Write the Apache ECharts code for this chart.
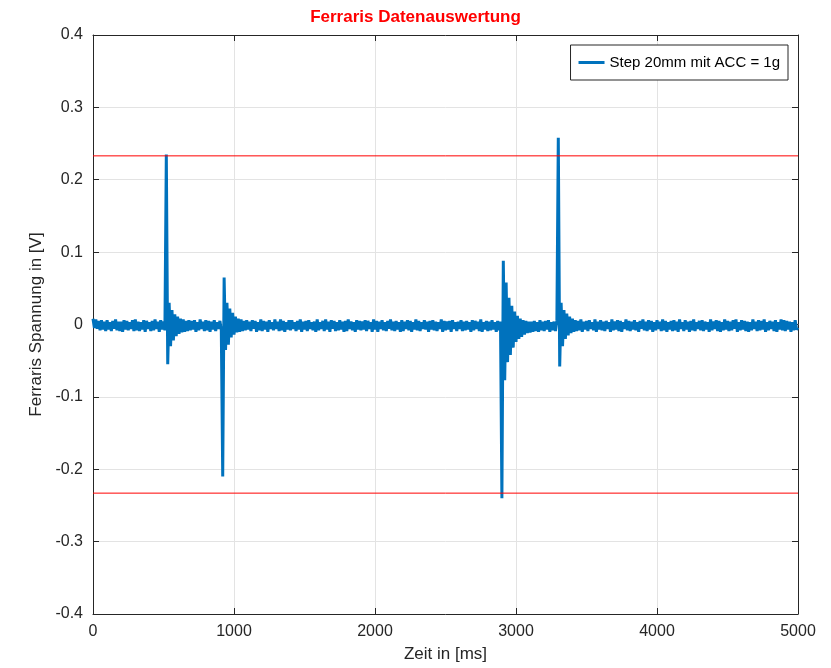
<!DOCTYPE html>
<html><head><meta charset="utf-8">
<script src="https://cdn.jsdelivr.net/npm/echarts@6/dist/echarts.min.js"></script>
<style>html,body{margin:0;padding:0;background:#fff}#c{width:831px;height:668px}</style>
</head><body><div id="c"></div>
<script>
var titleText = "Ferraris Datenauswertung";
var seriesName = "Step 20mm mit ACC = 1g";
var xAxisName = "Zeit in [ms]";
var yAxisName = "Ferraris Spannung in [V]";
var xTicks = [0, 1000, 2000, 3000, 4000, 5000];
var yTicks = [-0.4, -0.3, -0.2, -0.1, 0, 0.1, 0.2, 0.3, 0.4];
var thresholds = [0.233, -0.233];
var sampleStartMs = 0;
var sampleStepMs = 10;
var voltage = [
 0.008, -0.005, 0.007, -0.006, 0.005, -0.008, 0.006, -0.007, 0.004, -0.009,
 0.006, -0.007, 0.003, -0.009, 0.005, -0.006, 0.007, -0.008, 0.004, -0.009,
 0.004, -0.010, 0.006, -0.007, 0.005, -0.008, 0.003, -0.006, 0.006, -0.009,
 0.007, -0.008, 0.004, -0.009, 0.003, -0.007, 0.006, -0.010, 0.005, -0.006,
 0.003, -0.009, 0.005, -0.008, 0.007, -0.006, 0.004, -0.010, 0.006, -0.007,
 0.004, -0.008, 0.235, -0.055, 0.030, -0.030, 0.020, -0.022, 0.014, -0.016,
 0.011, -0.013, 0.008, -0.011, 0.007, -0.010, 0.005, -0.009, 0.006, -0.008,
 0.005, -0.007, 0.006, -0.010, 0.003, -0.008, 0.007, -0.006, 0.004, -0.009,
 0.006, -0.008, 0.005, -0.010, 0.004, -0.007, 0.006, -0.009, 0.003, -0.006,
 0.005, -0.008, -0.210, 0.065, -0.035, 0.030, -0.028, 0.022, -0.018, 0.016,
 -0.014, 0.011, -0.011, 0.008, -0.010, 0.007, -0.009, 0.005, -0.008, 0.006,
 -0.007, 0.004, -0.009, 0.006, -0.006, 0.005, -0.010, 0.003, -0.008, 0.007,
 -0.009, 0.005, -0.007, 0.004, -0.010, 0.006, -0.006, 0.003, -0.008, 0.007,
 -0.006, 0.004, -0.009, 0.007, -0.008, 0.005, -0.010, 0.003, -0.007, 0.006,
 -0.008, 0.006, -0.006, 0.003, -0.009, 0.005, -0.007, 0.007, -0.010, 0.004,
 -0.007, 0.005, -0.009, 0.006, -0.006, 0.003, -0.008, 0.004, -0.010, 0.007,
 -0.008, 0.003, -0.006, 0.005, -0.009, 0.007, -0.007, 0.004, -0.010, 0.006,
 -0.006, 0.005, -0.009, 0.003, -0.008, 0.006, -0.007, 0.004, -0.010, 0.005,
 -0.009, 0.007, -0.006, 0.004, -0.008, 0.003, -0.010, 0.006, -0.007, 0.005,
 -0.008, 0.004, -0.007, 0.006, -0.009, 0.005, -0.006, 0.003, -0.010, 0.007,
 -0.007, 0.005, -0.010, 0.004, -0.006, 0.006, -0.008, 0.003, -0.009, 0.005,
 -0.006, 0.007, -0.008, 0.004, -0.009, 0.005, -0.007, 0.003, -0.010, 0.006,
 -0.009, 0.004, -0.006, 0.006, -0.008, 0.005, -0.010, 0.003, -0.007, 0.007,
 -0.008, 0.005, -0.009, 0.003, -0.006, 0.006, -0.007, 0.004, -0.010, 0.005,
 -0.007, 0.006, -0.008, 0.004, -0.009, 0.003, -0.006, 0.007, -0.010, 0.005,
 -0.008, 0.004, -0.007, 0.005, -0.010, 0.006, -0.006, 0.003, -0.009, 0.004,
 -0.006, 0.006, -0.009, 0.004, -0.008, 0.005, -0.007, 0.003, -0.010, 0.006,
 -0.008, 0.005, -0.006, 0.004, -0.009, 0.007, -0.010, 0.003, -0.007, 0.005,
 -0.009, 0.004, -0.008, 0.006, -0.007, 0.003, -0.010, 0.005, -0.008, 0.004,
 -0.240, 0.088, -0.077, 0.058, -0.052, 0.037, -0.042, 0.026, -0.032, 0.018,
 -0.024, 0.012, -0.020, 0.008, -0.017, 0.006, -0.014, 0.005, -0.012, 0.004,
 -0.011, 0.004, -0.010, 0.005, -0.009, 0.003, -0.010, 0.006, -0.008, 0.004,
 -0.009, 0.005, -0.007, 0.006, -0.010, 0.003, -0.008, 0.004, -0.009, 0.005,
 0.258, -0.058, 0.030, -0.030, 0.020, -0.020, 0.015, -0.015, 0.011, -0.012,
 0.008, -0.010, 0.006, -0.009, 0.005, -0.008, 0.007, -0.010, 0.004, -0.007,
 0.005, -0.009, 0.006, -0.006, 0.003, -0.008, 0.007, -0.010, 0.004, -0.007,
 0.006, -0.008, 0.004, -0.009, 0.005, -0.006, 0.003, -0.010, 0.007, -0.008,
 0.004, -0.007, 0.006, -0.009, 0.005, -0.010, 0.003, -0.006, 0.007, -0.008,
 0.005, -0.009, 0.004, -0.007, 0.006, -0.008, 0.003, -0.010, 0.005, -0.006,
 0.007, -0.008, 0.004, -0.009, 0.006, -0.007, 0.005, -0.010, 0.003, -0.008,
 0.006, -0.006, 0.004, -0.009, 0.007, -0.008, 0.005, -0.010, 0.003, -0.007,
 0.005, -0.009, 0.006, -0.008, 0.004, -0.010, 0.007, -0.006, 0.003, -0.009,
 0.006, -0.007, 0.004, -0.010, 0.005, -0.008, 0.007, -0.009, 0.003, -0.006,
 0.005, -0.008, 0.006, -0.009, 0.004, -0.007, 0.003, -0.010, 0.007, -0.008,
 0.004, -0.006, 0.006, -0.009, 0.005, -0.010, 0.003, -0.008, 0.007, -0.007,
 0.005, -0.009, 0.004, -0.008, 0.006, -0.006, 0.007, -0.010, 0.003, -0.008,
 0.006, -0.007, 0.005, -0.009, 0.004, -0.010, 0.003, -0.008, 0.007, -0.006,
 0.004, -0.009, 0.006, -0.008, 0.005, -0.007, 0.007, -0.010, 0.003, -0.008,
 0.005, -0.006, 0.004, -0.009, 0.006, -0.010, 0.003, -0.007, 0.007, -0.008,
 0.006, -0.009, 0.005, -0.007, 0.004, -0.010, 0.003, -0.008, 0.006, -0.007,
 -0.004
];

var points = voltage.map(function (v, i) { return [sampleStartMs + i * sampleStepMs, v]; });
var xMin = xTicks[0], xMax = xTicks[xTicks.length - 1];

var FONT = "Liberation Sans";
var axisCol = "#262626";
var gridCol = "#e3e3e3";

function mkX(show, pos) {
  return {
    type: "value", min: xMin, max: xMax, interval: 1000,
    position: pos,
    name: show ? xAxisName : "", nameLocation: "middle", nameGap: 32,
    nameTextStyle: { fontFamily: FONT, fontSize: 17, color: axisCol },
    axisLine: { show: true, onZero: false, lineStyle: { color: axisCol, width: 1 } },
    axisTick: { show: true, inside: true, length: 6, lineStyle: { color: axisCol } },
    axisLabel: { show: show, fontFamily: FONT, fontSize: 16, color: axisCol, margin: 10,
      formatter: function (v) { return String(Math.round(v)); } },
    splitLine: { show: show, lineStyle: { color: gridCol, width: 1 } }
  };
}
function mkY(show, pos) {
  return {
    type: "value", min: yTicks[0], max: yTicks[yTicks.length - 1], interval: 0.1,
    position: pos,
    name: show ? yAxisName : "", nameLocation: "middle", nameGap: 40, nameRotate: 90,
    nameTextStyle: { fontFamily: FONT, fontSize: 17, color: axisCol },
    axisLine: { show: true, onZero: false, lineStyle: { color: axisCol, width: 1 } },
    axisTick: { show: true, inside: true, length: 6, lineStyle: { color: axisCol } },
    axisLabel: { show: show, fontFamily: FONT, fontSize: 16, color: axisCol, margin: 10,
      formatter: function (v) { return Math.abs(v) < 1e-9 ? "0" : String(Math.round(v * 10) / 10); } },
    splitLine: { show: show, lineStyle: { color: gridCol, width: 1 } }
  };
}

var series = [{
  name: seriesName, type: "line", data: points, xAxisIndex: 0, yAxisIndex: 0,
  showSymbol: false, symbol: "none", z: 2,
  lineStyle: { color: "#0072BD", width: 3 }, itemStyle: { color: "#0072BD" }
}];
thresholds.forEach(function (t, k) {
  series.push({
    name: "thr" + k, type: "line", data: [[xMin, t], [xMax, t]],
    xAxisIndex: 0, yAxisIndex: 0, showSymbol: false, symbol: "none", silent: true, z: 3,
    lineStyle: { color: "#ff0000", width: 1 }, itemStyle: { color: "#ff0000" }
  });
});

var chart = echarts.init(document.getElementById("c"), null, { renderer: "canvas" });
chart.setOption({
  animation: false,
  backgroundColor: "#fff",
  title: { text: titleText, left: "center", top: 4,
    textStyle: { fontFamily: FONT, fontSize: 17, fontWeight: "bold", color: "#ff0000" } },
  legend: {
    right: 43, top: 45, orient: "vertical",
    backgroundColor: "#fff", borderColor: "#262626", borderWidth: 1,
    padding: [10, 8, 10, 8],
    itemWidth: 26, itemHeight: 3, itemGap: 4,
    textStyle: { fontFamily: FONT, fontSize: 15, color: "#000" },
    data: [{ name: seriesName, icon: "rect" }]
  },
  grid: { left: 93, right: 33, top: 35, bottom: 49, containLabel: false },
  xAxis: [mkX(true, "bottom"), mkX(false, "top")],
  yAxis: [mkY(true, "left"), mkY(false, "right")],
  series: series
});
</script></body></html>
